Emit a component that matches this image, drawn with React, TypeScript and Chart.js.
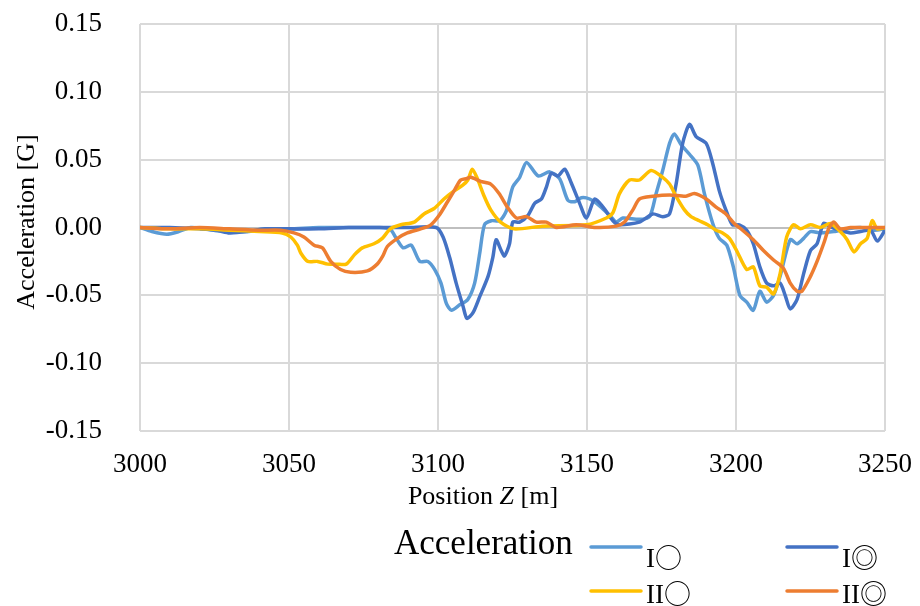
import React, { useEffect, useRef } from 'react';
import { Chart, registerables } from 'chart.js';

Chart.register(...registerables);

// ---- Data ----
const seriesNames = ['I○', 'I◎', 'II○', 'II◎'];
const seriesColors = ['#5B9BD5', '#4472C4', '#FFC000', '#ED7D31'];
const legendTitle = 'Acceleration';
const yTitle = 'Acceleration [G]';
const xTitleParts = ['Position ', 'Z', ' [m]'];

const xTicks = [3000, 3050, 3100, 3150, 3200, 3250];
const yTicks = [-0.15, -0.1, -0.05, 0, 0.05, 0.1, 0.15];

// I○ (light blue)
const posI1 = [3000, 3004, 3009, 3013, 3017, 3022, 3028, 3036, 3042, 3050, 3060, 3070, 3080, 3083.8, 3086, 3088.3, 3091, 3093.9, 3096.6, 3098.9, 3101, 3102.8, 3104.5, 3107.3, 3110, 3112.3, 3114, 3115.6, 3117.9, 3120.7, 3122.9, 3125.1, 3127.4, 3129.7, 3133.6, 3137.5, 3140.8, 3143.6, 3145.9, 3148.1, 3150.9, 3154.2, 3157.6, 3159.8, 3162, 3167.6, 3171, 3173.2, 3175.4, 3177.7, 3179.3, 3181.6, 3184.4, 3187.2, 3189.4, 3192.2, 3194.4, 3196.9, 3199.1, 3201.3, 3203.6, 3205.8, 3208, 3210.3, 3212.6, 3214.8, 3218.2, 3220.5, 3222.7, 3225, 3228.3, 3232.8, 3237.3, 3241.8, 3246.3, 3250];
const accI1 = [0, -0.003, -0.005, -0.003, 0, -0.001, -0.003, -0.003, -0.001, -0.001, 0, 0, 0, -0.001, -0.008, -0.015, -0.013, -0.025, -0.025, -0.031, -0.041, -0.056, -0.061, -0.057, -0.053, -0.041, -0.019, 0.002, 0.005, 0.005, 0.012, 0.03, 0.037, 0.048, 0.038, 0.041, 0.036, 0.02, 0.019, 0.022, 0.021, 0.016, 0.009, 0.004, 0.007, 0.006, 0.008, 0.025, 0.042, 0.062, 0.069, 0.061, 0.054, 0.046, 0.025, 0.003, -0.008, -0.013, -0.029, -0.05, -0.055, -0.061, -0.047, -0.055, -0.05, -0.036, -0.009, -0.012, -0.008, -0.003, -0.004, -0.003, -0.001, 0, -0.002, -0.001];

// I◎ (dark blue)
const posI2 = [3000, 3010, 3020, 3026, 3030, 3036, 3042, 3050, 3060, 3070, 3080, 3090, 3099.4, 3101.7, 3103.9, 3106.1, 3108.4, 3109.7, 3111.7, 3114, 3116.8, 3118.4, 3119.5, 3121.2, 3122.3, 3124, 3125.1, 3127.4, 3130.2, 3132.5, 3134.7, 3136.4, 3138, 3140.3, 3142.5, 3144.7, 3147.5, 3149.8, 3152.6, 3155.4, 3158.7, 3160.9, 3167.6, 3172.1, 3175.4, 3177.7, 3179.9, 3182.1, 3184.4, 3186.6, 3190, 3192.2, 3194.4, 3196.6, 3198.8, 3201.1, 3203.6, 3205.8, 3208, 3210.3, 3212.6, 3214.8, 3216.5, 3218.2, 3220.5, 3222.7, 3225, 3227.2, 3229.4, 3231.7, 3235, 3238.4, 3241.8, 3245.2, 3247.4, 3250];
const accI2 = [0, 0, -0.001, -0.002, -0.004, -0.003, -0.001, -0.001, -0.001, 0, 0, 0, 0, -0.007, -0.022, -0.041, -0.058, -0.067, -0.063, -0.051, -0.036, -0.022, -0.009, -0.017, -0.021, -0.012, 0.004, 0.004, 0.009, 0.018, 0.021, 0.03, 0.04, 0.038, 0.043, 0.033, 0.018, 0.007, 0.021, 0.015, 0.005, 0.002, 0.004, 0.01, 0.008, 0.01, 0.032, 0.062, 0.076, 0.067, 0.062, 0.047, 0.027, 0.013, 0.002, 0.002, -0.002, -0.012, -0.029, -0.041, -0.043, -0.041, -0.05, -0.06, -0.053, -0.034, -0.017, -0.012, 0.003, 0.0005, -0.002, -0.004, -0.003, -0.002, -0.01, -0.002];

// II○ (yellow)
const posII1 = [3000, 3010, 3020, 3030, 3040, 3047.7, 3050.6, 3052.8, 3054, 3056.3, 3059.6, 3063, 3066, 3069.2, 3072, 3074.6, 3078.5, 3081.3, 3084, 3087.5, 3092, 3095.3, 3098.7, 3102, 3105.4, 3108.2, 3110, 3111.5, 3113.2, 3115.5, 3117.7, 3121, 3125.5, 3135, 3149.8, 3156.5, 3158.7, 3160.9, 3164.3, 3167.6, 3171.5, 3175.4, 3177.7, 3179.9, 3182.7, 3184.9, 3187.7, 3190.5, 3193.3, 3195.5, 3197.8, 3200.2, 3203.6, 3205.8, 3208, 3210.3, 3212.6, 3214.8, 3217, 3219.3, 3221.6, 3225, 3228.3, 3231.7, 3235, 3237.3, 3239.6, 3241.8, 3244, 3245.7, 3247.4, 3250];
const accII1 = [0, -0.001, -0.001, -0.002, -0.003, -0.004, -0.007, -0.013, -0.019, -0.025, -0.025, -0.027, -0.027, -0.027, -0.02, -0.015, -0.012, -0.008, -0.001, 0.002, 0.004, 0.01, 0.014, 0.021, 0.027, 0.031, 0.035, 0.043, 0.036, 0.023, 0.013, 0.004, -0.001, 0.001, 0.002, 0.007, 0.011, 0.025, 0.035, 0.035, 0.042, 0.037, 0.032, 0.023, 0.013, 0.008, 0.005, 0.002, -0.002, -0.004, -0.008, -0.017, -0.031, -0.029, -0.043, -0.044, -0.049, -0.034, -0.007, 0.002, -0.001, 0.002, 0, 0.003, -0.003, -0.009, -0.018, -0.012, -0.008, 0.005, -0.001, 0];

// II◎ (orange)
const posII2 = [3000, 3010, 3020, 3030, 3040, 3047.2, 3051.7, 3055, 3058.4, 3061.2, 3064, 3067.3, 3070.7, 3076.3, 3079.6, 3081.5, 3083, 3086.4, 3089.7, 3094.2, 3097.6, 3100.4, 3103.2, 3105.4, 3107.6, 3109.5, 3111, 3114.3, 3117.7, 3120.5, 3123.3, 3126.3, 3129.7, 3133, 3136.4, 3139.7, 3146.4, 3153, 3159.8, 3162.6, 3165.4, 3167.6, 3172.1, 3177.7, 3183.2, 3186, 3190, 3193.3, 3196.6, 3199.4, 3202.2, 3205.8, 3209.2, 3212.6, 3215.9, 3218.2, 3220.5, 3222.1, 3225, 3227.2, 3229.4, 3231.1, 3232.8, 3235, 3238.4, 3242.9, 3250];
const accII2 = [0, -0.001, 0, -0.001, -0.002, -0.002, -0.004, -0.007, -0.013, -0.015, -0.025, -0.031, -0.033, -0.032, -0.027, -0.021, -0.014, -0.008, -0.004, -0.001, 0.002, 0.009, 0.019, 0.027, 0.035, 0.036, 0.037, 0.034, 0.032, 0.025, 0.015, 0.007, 0.008, 0.004, 0.004, 0, 0.002, 0, 0.001, 0.004, 0.013, 0.021, 0.023, 0.024, 0.023, 0.025, 0.021, 0.015, 0.01, 0.003, -0.002, -0.009, -0.017, -0.024, -0.03, -0.041, -0.047, -0.047, -0.036, -0.025, -0.012, -0.001, 0.004, -0.001, 0, 0, 0];

const seriesPos = [posI1, posI2, posII1, posII2];
const seriesAcc = [accI1, accI2, accII1, accII2];

const SERIF = "'Liberation Serif', 'Times New Roman', serif";
const CJK = "'Noto Sans CJK JP', 'Noto Sans CJK SC', sans-serif";

const textPlugin = {
  id: 'customText',
  afterDraw(chart: any) {
    const ctx = chart.ctx as CanvasRenderingContext2D;
    // y-axis title
    ctx.save();
    ctx.fillStyle = '#000';
    ctx.font = `26px ${SERIF}`;
    ctx.translate(27, 222);
    ctx.rotate(-Math.PI / 2);
    ctx.textAlign = 'center';
    ctx.textBaseline = 'middle';
    ctx.fillText(yTitle, 0, 0);
    ctx.restore();

    // x-axis title with italic Z
    ctx.save();
    ctx.fillStyle = '#000';
    ctx.textBaseline = 'middle';
    ctx.textAlign = 'left';
    const fonts = [`26px ${SERIF}`, `italic 26px ${SERIF}`, `26px ${SERIF}`];
    let total = 0;
    const widths = xTitleParts.map((t, i) => {
      ctx.font = fonts[i];
      const w = ctx.measureText(t).width;
      total += w;
      return w;
    });
    let x = 483 - total / 2;
    xTitleParts.forEach((t, i) => {
      ctx.font = fonts[i];
      ctx.fillText(t, x, 497);
      x += widths[i];
    });
    ctx.restore();

    // legend
    ctx.save();
    ctx.fillStyle = '#000';
    ctx.font = `35px ${SERIF}`;
    ctx.textAlign = 'left';
    ctx.textBaseline = 'alphabetic';
    ctx.fillText(legendTitle, 394, 554);
    const colX = [591, 787];
    const rowY = [547, 591];
    chart.data.datasets.forEach((ds: any, i: number) => {
      const cx = colX[i % 2];
      const cy = rowY[Math.floor(i / 2)];
      ctx.strokeStyle = ds.borderColor;
      ctx.lineWidth = 3.5;
      ctx.lineCap = 'round';
      ctx.beginPath();
      ctx.moveTo(cx, cy);
      ctx.lineTo(cx + 50, cy);
      ctx.stroke();
      const label: string = ds.label;
      const m = label.match(/^(I+)(.*)$/);
      const roman = m ? m[1] : label;
      const sym = m ? m[2] : '';
      const base = cy + 20 - (i < 2 ? 0 : 8);
      ctx.font = `27px ${SERIF}`;
      ctx.fillText(roman, cx + 55, base);
      const rw = ctx.measureText(roman).width;
      ctx.font = `27px ${CJK}`;
      ctx.fillText(sym, cx + 55 + rw, base + 1);
    });
    ctx.restore();
  },
};

export default function App() {
  const canvasRef = useRef<HTMLCanvasElement | null>(null);

  useEffect(() => {
    if (!canvasRef.current) return;
    const datasets = seriesNames.map((name, i) => ({
      label: name,
      data: seriesPos[i].map((p, j) => ({ x: p, y: seriesAcc[i][j] })),
      borderColor: seriesColors[i],
      backgroundColor: seriesColors[i],
      borderWidth: 3.5,
      pointRadius: 0,
      tension: 0.25,
      fill: false,
      order: 4 - i,
    }));

    const chart = new Chart(canvasRef.current, {
      type: 'line',
      data: { datasets },
      plugins: [textPlugin],
      options: {
        animation: false,
        responsive: false,
        layout: { padding: { top: 24, right: 35, left: 0, bottom: 0 } },
        plugins: {
          legend: { display: false },
          tooltip: { enabled: false },
        },
        scales: {
          x: {
            type: 'linear',
            min: xTicks[0],
            max: xTicks[xTicks.length - 1],
            afterBuildTicks: (scale: any) => {
              scale.ticks = xTicks.map((v) => ({ value: v }));
            },
            afterFit: (scale: any) => {
              scale.height = 175;
              scale.paddingLeft = 0;
              scale.paddingRight = 0;
              scale.paddingTop = 0;
              scale.paddingBottom = 0;
            },
            ticks: {
              font: { family: SERIF, size: 27 },
              color: '#000',
              padding: 18,
              maxRotation: 0,
              callback: (v: any) => String(v),
            },
            grid: { color: '#D9D9D9', lineWidth: 2, drawTicks: false },
            border: { display: false },
          },
          y: {
            type: 'linear',
            min: yTicks[0],
            max: yTicks[yTicks.length - 1],
            afterBuildTicks: (scale: any) => {
              scale.ticks = yTicks.map((v) => ({ value: v }));
            },
            afterFit: (scale: any) => {
              scale.width = 140;
              scale.paddingLeft = 0;
              scale.paddingRight = 0;
              scale.paddingTop = 0;
              scale.paddingBottom = 0;
            },
            ticks: {
              font: { family: SERIF, size: 27 },
              color: '#000',
              padding: 38,
              callback: (v: any) => (Math.abs(v) < 1e-9 ? '0.00' : Number(v).toFixed(2)),
            },
            grid: {
              color: (c: any) => (c.tick && Math.abs(c.tick.value) < 1e-9 ? '#BFBFBF' : '#D9D9D9'),
              lineWidth: 2,
              drawTicks: false,
            },
            border: { display: false },
          },
        },
      },
    });
    return () => chart.destroy();
  }, []);

  return (
    <div style={{ position: 'absolute', left: 0, top: 0, width: 920, height: 606, background: '#fff' }}>
      <canvas ref={canvasRef} width={920} height={606} style={{ display: 'block' }} />
    </div>
  );
}
